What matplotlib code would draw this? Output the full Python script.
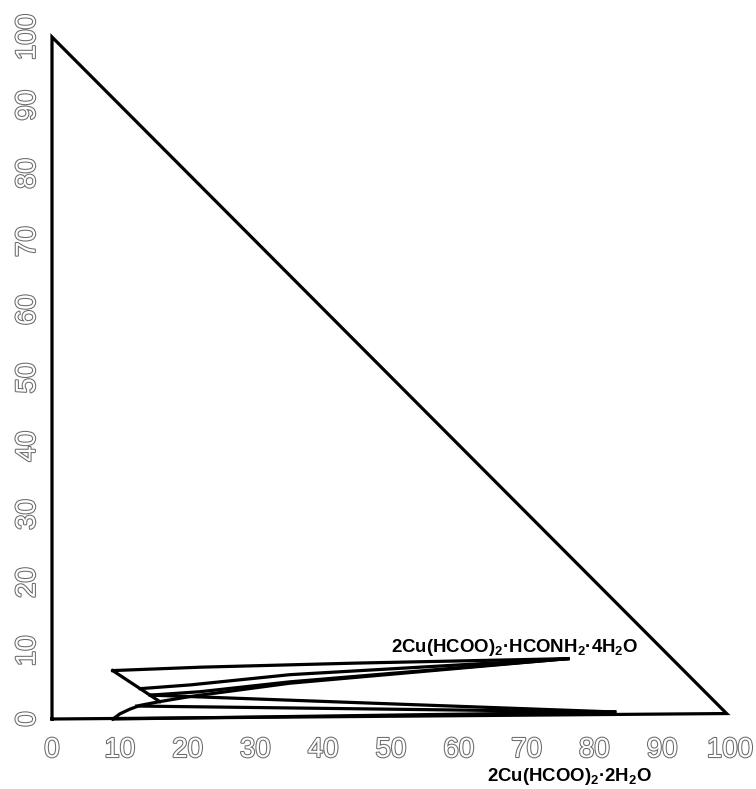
import numpy as np
import matplotlib
matplotlib.use("Agg")
import matplotlib.pyplot as plt
import matplotlib.patheffects as pe

plt.rcParams['font.family'] = ['Liberation Sans', 'DejaVu Sans']
plt.rcParams['mathtext.fontset'] = 'custom'
plt.rcParams['mathtext.rm'] = 'Liberation Sans'
plt.rcParams['mathtext.bf'] = 'Liberation Sans:bold'
plt.rcParams['mathtext.default'] = 'bf'

# triangle frame
tri_x = [0, 0, 99.5, 0]
tri_y = [0, 100, 0.8, 0]

# phase boundary lines
top_x = [8.95, 22, 45, 76.1]
top_y = [7.1, 7.6, 8.2, 8.85]
diag_x = [8.95, 15.9]
diag_y = [7.1, 2.55]
mid_x = [13.0, 20.4, 35.1, 76.1]
mid_y = [4.45, 5.0, 6.5, 8.85]
curve_x = [9.0, 10.0, 11.5, 13.0, 15.9, 20.4, 35.1, 76.1]
curve_y = [0.0, 0.75, 1.45, 2.0, 2.55, 3.3, 5.25, 8.85]
band_x = [14.5, 21.8, 35.1, 76.1]
band_y = [3.5, 4.0, 5.45, 8.85]
desc_x = [14.5, 83.0]
desc_y = [3.5, 1.03]
flat_x = [12.5, 83.0]
flat_y = [1.9, 1.03]
low_x = [9.0, 83.0]
low_y = [0.0, 1.03]

ticks = np.arange(0, 101, 10)

fig = plt.figure(figsize=(7.56, 7.89), dpi=100)
ax = fig.add_axes([52/756, 70/789, 678/756, 682/789])
ax.set_xlim(0, 100)
ax.set_ylim(0, 100)

lw = 2.3
for xs, ys in [(tri_x, tri_y), (top_x, top_y), (diag_x, diag_y), (mid_x, mid_y),
               (curve_x, curve_y), (band_x, band_y), (desc_x, desc_y),
               (flat_x, flat_y), (low_x, low_y)]:
    ax.plot(xs, ys, color='black', lw=lw, clip_on=False, solid_joinstyle='miter')

for s in ax.spines.values():
    s.set_visible(False)

outline = [pe.withStroke(linewidth=1.5, foreground='#6a6a6a')]
ax.set_xticks(ticks)
ax.set_yticks(ticks)
ax.set_xticklabels([str(t) for t in ticks], fontsize=20, color='white',
                   path_effects=outline)
ax.set_yticklabels([str(t) for t in ticks], fontsize=20, color='white',
                   path_effects=outline, rotation=90, va='center')
ax.tick_params(axis='x', length=0, pad=13)
ax.tick_params(axis='y', length=0, pad=8)

ax.text(68.3, 10.5, r'2Cu(HCOO)$_2$·HCONH$_2$·4H$_2$O', fontsize=13.4,
        fontweight='bold', ha='center', va='center', clip_on=False)
ax.text(76.4, -8.5, r'2Cu(HCOO)$_2$·2H$_2$O', fontsize=13.4,
        fontweight='bold', ha='center', va='center', clip_on=False)

fig.savefig('out.png', dpi=100)
